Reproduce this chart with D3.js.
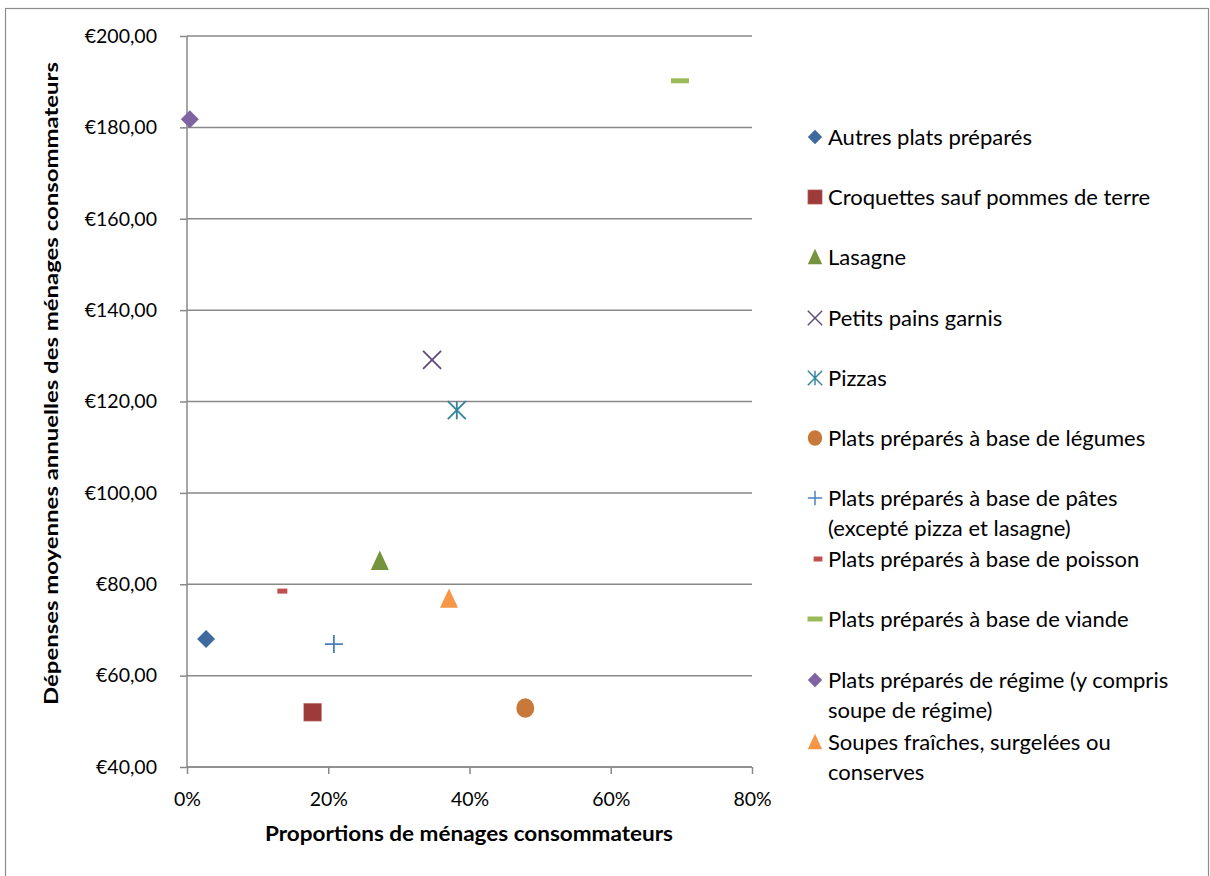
<!DOCTYPE html>
<html><head><meta charset="utf-8">
<script src="https://cdn.jsdelivr.net/npm/d3@7"></script>
<style>body{margin:0;background:#fff;} text{font-family:Lato,"Open Sans",sans-serif;}</style>
</head><body><svg id="c" width="1210" height="876"></svg>
<script>
const series = ["Autres plats préparés","Croquettes sauf pommes de terre","Lasagne","Petits pains garnis","Pizzas","Plats préparés à base de légumes","Plats préparés à base de pâtes (excepté pizza et lasagne)","Plats préparés à base de poisson","Plats préparés à base de viande","Plats préparés de régime (y compris soupe de régime)","Soupes fraîches, surgelées ou conserves"];
const legendLines = [["Autres plats préparés"],["Croquettes sauf pommes de terre"],["Lasagne"],["Petits pains garnis"],["Pizzas"],["Plats préparés à base de légumes"],["Plats préparés à base de pâtes","(excepté pizza et lasagne)"],["Plats préparés à base de poisson"],["Plats préparés à base de viande"],["Plats préparés de régime (y compris","soupe de régime)"],["Soupes fraîches, surgelées ou","conserves"]];
const proportions = [0.027,0.178,0.273,0.347,0.382,0.479,0.208,0.135,0.698,0.004,0.371];
const depenses = [68.0,52.0,85.1,129.1,118.1,52.9,66.9,78.5,190.2,181.8,76.8];
const shapes = ["diamond","square","triangle","x","star","circle","plus","dashS","dashL","diamond","triangle"];
const colors = ["#3F6AA0","#9C3B39","#77933C","#604A7B","#31859C","#C8783A","#4A7EBB","#C0504D","#9BBB59","#8064A2","#F79646"];
const yTicks = [40,60,80,100,120,140,160,180,200];
const xTicks = [0,0.2,0.4,0.6,0.8];

const svg = d3.select("#c");
svg.append("rect").attr("x",5.5).attr("y",8.5).attr("width",1203).attr("height",880).attr("fill","#fff").attr("stroke","#8c8c8c").attr("stroke-width",1.2);

const x = d3.scaleLinear().domain([0,0.8]).range([187,752]);
const y = d3.scaleLinear().domain([40,200]).range([767,36]);

svg.append("g").selectAll("line").data(yTicks).join("line")
  .attr("x1",187).attr("x2",752).attr("y1",d=>y(d)).attr("y2",d=>y(d))
  .attr("stroke","#888").attr("stroke-width",1.5);

const fmtEuro = d => "€" + d3.format(".2f")(d).replace(".",",");
const gy = svg.append("g").attr("transform","translate(187,0)")
  .call(d3.axisLeft(y).tickValues(yTicks).tickSize(7).tickPadding(23).tickFormat(fmtEuro));
const gx = svg.append("g").attr("transform","translate(0,767)")
  .call(d3.axisBottom(x).tickValues(xTicks).tickSize(7).tickPadding(18).tickFormat(d3.format(".0%")));
[gy,gx].forEach(g=>{
  g.select(".domain").attr("stroke","#888").attr("stroke-width",1.5);
  g.selectAll(".tick line").attr("stroke","#888").attr("stroke-width",1.5);
  g.selectAll("text").attr("font-family","Lato").attr("font-size",19.5).attr("fill","#000");
});
gy.select(".domain").attr("d","M0,36V767");
gx.select(".domain").attr("d","M187,0H752");

svg.append("text").attr("x",469).attr("y",841).attr("text-anchor","middle")
  .attr("font-weight","bold").attr("font-size",20).attr("textLength",408).attr("lengthAdjust","spacingAndGlyphs")
  .text("Proportions de ménages consommateurs");
svg.append("text").attr("transform","translate(58,383.5) rotate(-90)").attr("text-anchor","middle")
  .attr("font-weight","bold").attr("font-size",19).attr("textLength",643).attr("lengthAdjust","spacingAndGlyphs")
  .text("Dépenses moyennes annuelles des ménages consommateurs");

function marker(g, shape, color, s) {
  const r = 9*s;
  const sw = 1.8*Math.max(s,0.8);
  if (shape==="diamond") g.append("path").attr("d",`M0,${-r}L${r},0L0,${r}L${-r},0Z`).attr("fill",color);
  else if (shape==="square") g.append("rect").attr("x",-r).attr("y",-r).attr("width",2*r).attr("height",2*r).attr("fill",color).attr("stroke","#d9a5a4").attr("stroke-width",0.6);
  else if (shape==="triangle") g.append("path").attr("d",`M0,${-r*1.15}L${r},${r}L${-r},${r}Z`).attr("fill",color);
  else if (shape==="circle") g.append("ellipse").attr("rx",r).attr("ry",r*1.08).attr("fill",color);
  else if (shape==="x") g.append("path").attr("d",`M${-r},${-r}L${r},${r}M${r},${-r}L${-r},${r}`).attr("stroke",color).attr("stroke-width",sw);
  else if (shape==="star") g.append("path").attr("d",`M${-r},${-r}L${r},${r}M${r},${-r}L${-r},${r}M0,${-r}V${r}`).attr("stroke",color).attr("stroke-width",sw);
  else if (shape==="plus") g.append("path").attr("d",`M${-r},0H${r}M0,${-r}V${r}`).attr("stroke",color).attr("stroke-width",sw);
  else if (shape==="dashS") g.append("rect").attr("x",-5*Math.min(1,s*1.1)).attr("y",-2.5).attr("width",10*Math.min(1,s*1.1)).attr("height",5).attr("fill",color);
  else if (shape==="dashL") { const w = s<1?15:18; g.append("rect").attr("x",-w/2).attr("y",-2.5).attr("width",w).attr("height",5).attr("fill",color); }
}

const pts = svg.append("g");
series.forEach((name,i)=>{
  const g = pts.append("g").attr("transform",`translate(${x(proportions[i])},${y(depenses[i])})`);
  marker(g, shapes[i], colors[i], 1);
});

const legY = [137,197,257,318,378,438,498,559,619,680,742];
const leg = svg.append("g");
legendLines.forEach((lines,i)=>{
  const g = leg.append("g").attr("transform",`translate(815,${legY[i]})`);
  const mk = g.append("g");
  if (shapes[i]==="dashS") mk.attr("transform","translate(3,0)");
  marker(mk, shapes[i], colors[i], 0.8);
  const t = g.append("text").attr("x",13).attr("y",0).attr("font-size",22).attr("fill","#000");
  lines.forEach((ln,j)=>t.append("tspan").attr("x",13).attr("dy",j===0?"0.35em":"30").text(ln));
});
</script></body></html>
